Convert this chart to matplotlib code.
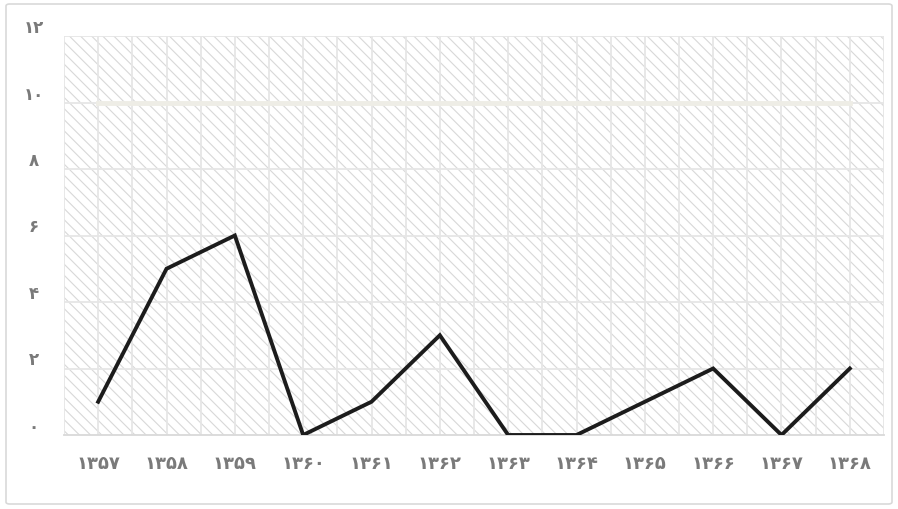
import matplotlib
matplotlib.use("Agg")
import matplotlib.pyplot as plt
from matplotlib.patches import Rectangle, FancyBboxPatch

plt.rcParams['font.family'] = ['DejaVu Sans']
plt.rcParams['hatch.linewidth'] = 0.8
plt.rcParams['hatch.color'] = '#d8d8d8'

years = ['۱۳۵۷', '۱۳۵۸', '۱۳۵۹', '۱۳۶۰', '۱۳۶۱', '۱۳۶۲', '۱۳۶۳', '۱۳۶۴', '۱۳۶۵', '۱۳۶۶', '۱۳۶۷', '۱۳۶۸']
values = [1, 5, 6, 0, 1, 3, 0, 0, 1, 2, 0, 2]
target = [10] * 12
yticks = [0, 2, 4, 6, 8, 10, 12]
ylabels = ['۰', '۲', '۴', '۶', '۸', '۱۰', '۱۲']

fig = plt.figure(figsize=(8.98, 5.10), dpi=100)
fig.patches.append(FancyBboxPatch((6/898, 5/510), 886/898, 500/510, boxstyle='round,pad=0,rounding_size=0.004',
                                  transform=fig.transFigure, fill=False, edgecolor='#d9d9d9', linewidth=1.2))
ax = fig.add_axes([64/898, 1 - 436/510, 820/898, 399/510])
n = len(years)
x = list(range(n))
ax.set_xlim(-0.5, n - 0.5)
ax.set_ylim(0, 12)

ax.add_patch(Rectangle((0, 0), 1, 1, transform=ax.transAxes, facecolor='white',
                       hatch='\\\\\\', edgecolor='#d8d8d8', linewidth=0, zorder=0))
for i in range(2 * n + 1):
    ax.axvline(-0.5 + i * 0.5, color='#e6e6e6', linewidth=1.3, zorder=1)
for yv in yticks[1:]:
    ax.axhline(yv, color='#e6e6e6', linewidth=1.3, zorder=1)

ax.plot(x, target, color='#eeede6', linewidth=3.5, zorder=2)
ax.plot(x, values, color='#1c1c1c', linewidth=2.8, zorder=3, solid_joinstyle='miter')

for s in ['top', 'right', 'left']:
    ax.spines[s].set_visible(False)
ax.spines['bottom'].set_color('#d9d9d9')
ax.spines['bottom'].set_linewidth(1.3)

ax.set_xticks(x)
ax.set_xticklabels(years, fontsize=13, color='#7a7a7a', fontweight='bold')
ax.set_yticks(yticks)
ax.set_yticklabels(ylabels, fontsize=12, color='#7a7a7a', fontweight='bold')
ax.tick_params(axis='x', length=0, pad=14)
ax.tick_params(axis='y', length=0, pad=22)
for lbl in ax.get_yticklabels():
    lbl.set_horizontalalignment('center')
    lbl.set_verticalalignment('bottom')

fig.savefig('out.png', dpi=100)
